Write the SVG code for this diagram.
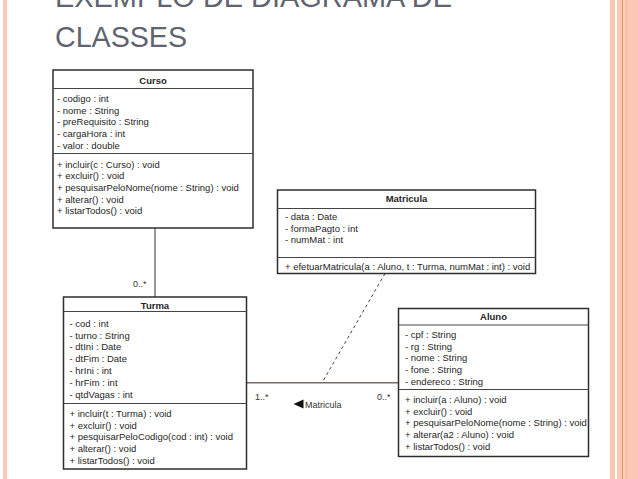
<svg xmlns="http://www.w3.org/2000/svg" width="638" height="479" viewBox="0 0 638 479">
<style>
.box{fill:#fff;stroke:#2e2e2e;stroke-width:1.5}
.dv{stroke:#444;stroke-width:1}
.t{font-family:"Liberation Sans",Arial,sans-serif;font-size:9.5px;fill:#262626}
.h{font-weight:bold;text-anchor:middle}
.ttl{font-family:"Liberation Sans",Arial,sans-serif;font-size:30px;fill:#5f6470}
.lbl{font-family:"Liberation Sans",Arial,sans-serif;font-size:9px;fill:#333}
</style>
<rect width="638" height="479" fill="#fff"/>
<g id="frame">
<rect x="3" y="0" width="4" height="479" fill="#fccab8"/>
<rect x="610" y="0" width="5" height="479" fill="#f9c6b3"/>
<rect x="617" y="0" width="21" height="479" fill="#fcc9b6"/>
<line x1="622.5" y1="0" x2="622.5" y2="479" stroke="#e8966f" stroke-width="1"/>
<line x1="626.8" y1="0" x2="626.8" y2="479" stroke="#f2ad8f" stroke-width="0.7"/>
</g>
<g id="title">
<text class="ttl" x="55" y="6.5" textLength="397" lengthAdjust="spacingAndGlyphs">EXEMPLO DE DIAGRAMA DE</text>
<text class="ttl" x="55" y="46.5" textLength="132" lengthAdjust="spacingAndGlyphs">CLASSES</text>
</g>
<g id="connectors">
<line x1="155" y1="228" x2="155" y2="297" stroke="#333" stroke-width="1"/>
<line x1="247" y1="382.7" x2="398.5" y2="382.7" stroke="#7a6a68" stroke-width="1.5"/>
<line x1="385" y1="273.5" x2="322.5" y2="382" stroke="#444" stroke-width="1" stroke-dasharray="3,3"/>
<text class="lbl" x="133" y="287">0..*</text>
<text class="lbl" x="255" y="400">1..*</text>
<text class="lbl" x="377" y="400">0..*</text>
<polygon points="293.5,404 303.5,399.5 303.5,408.5" fill="#111"/>
<text class="lbl" x="305" y="408">Matricula</text>
</g>
<g id="Curso">
<rect class="box" x="53" y="70" width="200" height="158"/>
<line class="dv" x1="53" y1="88.5" x2="253" y2="88.5"/>
<line class="dv" x1="53" y1="153.5" x2="253" y2="153.5"/>
<text class="t h" x="153" y="84">Curso</text>
<text class="t" x="57" y="101.8">- codigo : int</text>
<text class="t" x="57" y="113.5">- nome : String</text>
<text class="t" x="57" y="125.2">- preRequisito : String</text>
<text class="t" x="57" y="136.9">- cargaHora : int</text>
<text class="t" x="57" y="148.6">- valor : double</text>
<text class="t" x="57" y="167.5">+ incluir(c : Curso) : void</text>
<text class="t" x="57" y="179.2">+ excluir() : void</text>
<text class="t" x="57" y="190.9">+ pesquisarPeloNome(nome : String) : void</text>
<text class="t" x="57" y="202.6">+ alterar() : void</text>
<text class="t" x="57" y="214.3">+ listarTodos() : void</text>
</g>
<g id="Matricula">
<rect class="box" x="277.5" y="190" width="258" height="83.5"/>
<line class="dv" x1="277.5" y1="208.5" x2="535.5" y2="208.5"/>
<line class="dv" x1="277.5" y1="257.5" x2="535.5" y2="257.5"/>
<text class="t h" x="406.5" y="202">Matricula</text>
<text class="t" x="285" y="220">- data : Date</text>
<text class="t" x="285" y="231.7">- formaPagto : int</text>
<text class="t" x="285" y="243.4">- numMat : int</text>
<text class="t" x="285" y="269.5">+ efetuarMatricula(a : Aluno, t : Turma, numMat : int) : void</text>
</g>
<g id="Turma">
<rect class="box" x="63.5" y="297" width="183" height="172"/>
<line class="dv" x1="63.5" y1="311.5" x2="246.5" y2="311.5"/>
<line class="dv" x1="63.5" y1="403.5" x2="246.5" y2="403.5"/>
<text class="t h" x="155" y="308.5">Turma</text>
<text class="t" x="69.5" y="326.8">- cod : int</text>
<text class="t" x="69.5" y="338.6">- turno : String</text>
<text class="t" x="69.5" y="350.4">- dtIni : Date</text>
<text class="t" x="69.5" y="362.2">- dtFim : Date</text>
<text class="t" x="69.5" y="374">- hrIni : int</text>
<text class="t" x="69.5" y="385.8">- hrFim : int</text>
<text class="t" x="69.5" y="397.6">- qtdVagas : int</text>
<text class="t" x="69.5" y="416.8">+ incluir(t : Turma) : void</text>
<text class="t" x="69.5" y="428.5">+ excluir() : void</text>
<text class="t" x="69.5" y="440.2">+ pesquisarPeloCodigo(cod : int) : void</text>
<text class="t" x="69.5" y="451.9">+ alterar() : void</text>
<text class="t" x="69.5" y="463.6">+ listarTodos() : void</text>
</g>
<g id="Aluno">
<rect class="box" x="398.5" y="308.5" width="190" height="148"/>
<line class="dv" x1="398.5" y1="325" x2="588.5" y2="325"/>
<line class="dv" x1="398.5" y1="389.5" x2="588.5" y2="389.5"/>
<text class="t h" x="493.5" y="320">Aluno</text>
<text class="t" x="405" y="337.8">- cpf : String</text>
<text class="t" x="405" y="349.5">- rg : String</text>
<text class="t" x="405" y="361.2">- nome : String</text>
<text class="t" x="405" y="372.9">- fone : String</text>
<text class="t" x="405" y="384.6">- endereco : String</text>
<text class="t" x="405" y="402.8">+ incluir(a : Aluno) : void</text>
<text class="t" x="405" y="414.5">+ excluir() : void</text>
<text class="t" x="405" y="426.2">+ pesquisarPeloNome(nome : String) : void</text>
<text class="t" x="405" y="437.9">+ alterar(a2 : Aluno) : void</text>
<text class="t" x="405" y="449.6">+ listarTodos() : void</text>
</g>
</svg>
